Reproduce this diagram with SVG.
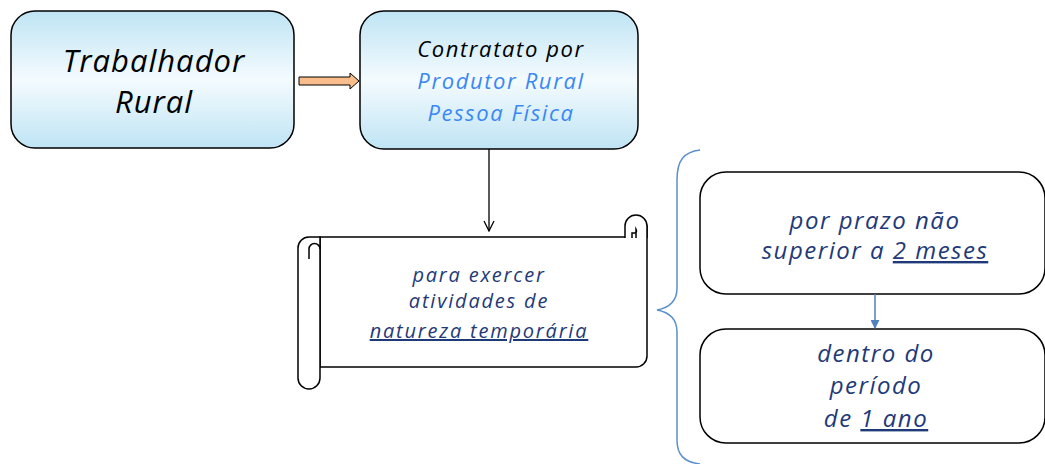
<svg xmlns="http://www.w3.org/2000/svg" width="1045" height="464" viewBox="0 0 1045 464">
<defs>
<linearGradient id="g" x1="0" y1="0" x2="0" y2="1">
<stop offset="0" stop-color="#bfe4f4"/>
<stop offset="0.5" stop-color="#f4fbfe"/>
<stop offset="1" stop-color="#bfe4f4"/>
</linearGradient>
<marker id="ah" viewBox="0 0 12 12" refX="11" refY="6" markerWidth="12" markerHeight="12" markerUnits="userSpaceOnUse" orient="auto">
<path d="M1,1 L11,6 L1,11" fill="none" stroke="#000" stroke-width="1.3"/>
</marker>
<marker id="bh" viewBox="0 0 10 10" refX="9" refY="5" markerWidth="9" markerHeight="9" markerUnits="userSpaceOnUse" orient="auto">
<path d="M0,0 L10,5 L0,10 Z" fill="#4f81bd"/>
</marker>
</defs>
<style>
text{font-family:"Open Sans","Lato","DejaVu Sans",sans-serif;font-style:italic;text-anchor:middle;letter-spacing:1.5px}
.box{stroke:#000;stroke-width:1.5}
.nv{fill:#1f3a78}
.bl{fill:#3a88f5}
.u{text-decoration:underline}
</style>
<rect width="1045" height="464" fill="#fff"/>
<g id="trabalhador">
<rect class="box" x="11" y="11" width="283" height="137" rx="24" fill="url(#g)"/>
<text x="154" y="72" font-size="31" fill="#000" style="letter-spacing:1px">Trabalhador</text>
<text x="154" y="113" font-size="31" fill="#000" style="letter-spacing:1px">Rural</text>
</g>
<g id="contratato">
<rect class="box" x="360" y="11" width="278" height="138" rx="24" fill="url(#g)"/>
<text x="501" y="57" font-size="22" fill="#000" style="letter-spacing:1.6px">Contratato por</text>
<text x="501" y="89" font-size="22" class="bl" style="letter-spacing:1.6px">Produtor Rural</text>
<text x="501" y="121" font-size="22" class="bl" style="letter-spacing:1.6px">Pessoa Física</text>
</g>
<g id="scroll" fill="#fff" stroke="#000" stroke-width="1.5">
<path d="M320,237 L636,237 L636,226 A11,11 0 0 1 647,226 L647,356 A11,11 0 0 1 636,367 L320,367 Z"/>
<path d="M625,238 L625,226 A11,11 0 0 1 647,226 L647,238"/>
<path d="M636,238 L636,229 A4,4 0 0 1 636,233 L632,233 L632,238" fill="none"/>
<path d="M309,237 L320,237 L320,378 A11,11 0 0 1 298,378 L298,248 A11,11 0 0 1 309,237 Z"/>
<path d="M309,259 L309,249 A5.5,5.5 0 0 1 320,249" fill="none"/>
<text x="479" y="282" font-size="20" class="nv" stroke="none" style="letter-spacing:1.8px">para exercer</text>
<text x="479" y="308" font-size="20" class="nv" stroke="none" style="letter-spacing:1.8px">atividades de</text>
<text x="479" y="338" font-size="20" class="nv u" stroke="none" style="letter-spacing:1.8px">natureza temporária</text>
</g>
<g id="prazo">
<rect class="box" x="700" y="172" width="345" height="122" rx="26" fill="#fff"/>
<text x="875" y="229" font-size="24" class="nv">por prazo não</text>
<text x="875" y="259" font-size="24" class="nv">superior a <tspan class="u">2 meses</tspan></text>
</g>
<g id="periodo">
<rect class="box" x="700" y="329" width="345" height="114" rx="26" fill="#fff"/>
<text x="876" y="362" font-size="24" class="nv">dentro do</text>
<text x="876" y="394" font-size="24" class="nv">período</text>
<text x="876" y="427" font-size="24" class="nv">de <tspan class="u">1 ano</tspan></text>
</g>
<g id="connectors">
<path d="M299,77 L350,77 L350,73 L359,81 L350,89 L350,85 L299,85 Z" fill="#f9bd8b" stroke="#000" stroke-width="1"/>
<line x1="489" y1="149" x2="489" y2="231" stroke="#000" stroke-width="1.3" marker-end="url(#ah)"/>
<line x1="875" y1="294" x2="875" y2="328" stroke="#4f81bd" stroke-width="1.5" marker-end="url(#bh)"/>
<path d="M700,150 C684,152 677,160 677,180 L677,288 C677,302 668,308 657,310 C668,312 677,318 677,332 L677,440 C677,455 684,462 700,464" fill="none" stroke="#5b8fcf" stroke-width="1.5"/>
</g>
</svg>
